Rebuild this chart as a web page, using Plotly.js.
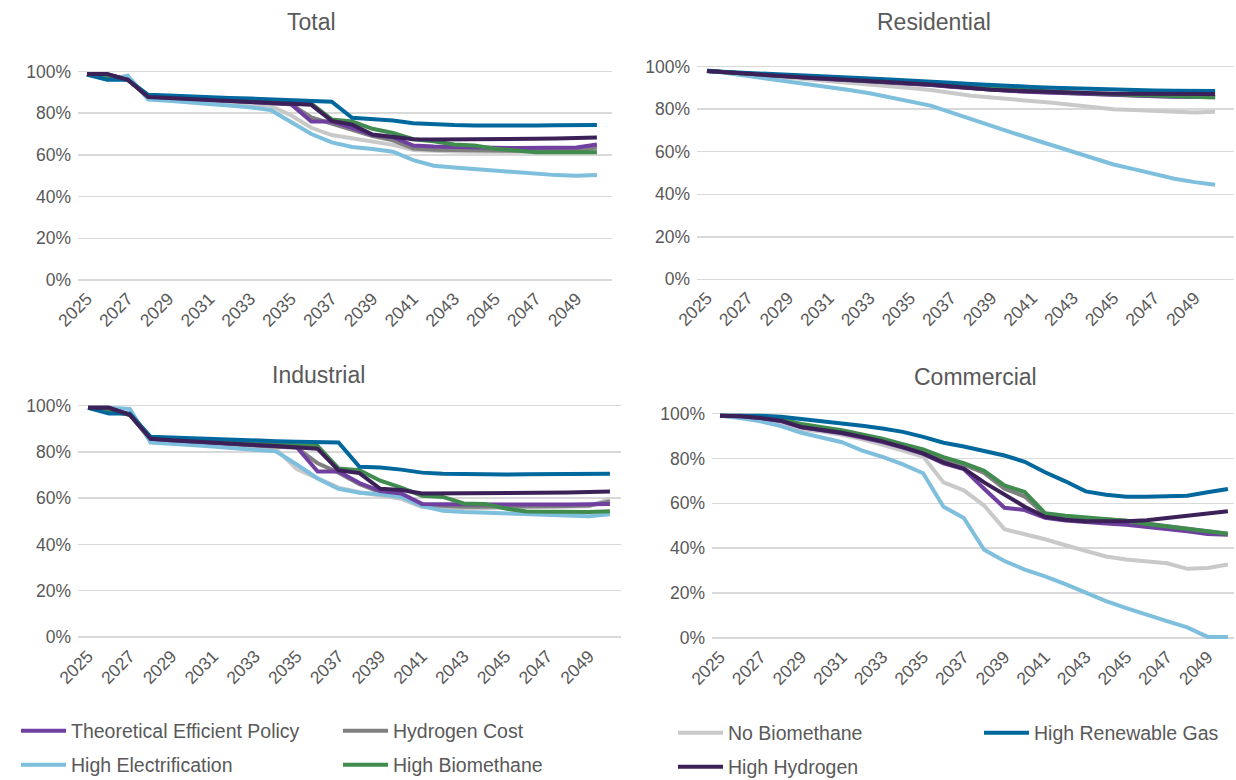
<!DOCTYPE html>
<html>
<head>
<meta charset="utf-8">
<script src="https://cdn.plot.ly/plotly-3.0.1.min.js"></script>
<style>html,body{margin:0;padding:0;background:#fff;}#chart{width:1236px;height:780px;}</style>
</head>
<body>
<div id="chart"></div>
<script>
// ---------- DATA ----------
const years = [2025,2026,2027,2028,2029,2030,2031,2032,2033,2034,2035,2036,2037,2038,2039,2040,2041,2042,2043,2044,2045,2046,2047,2048,2049,2050];
const xTickVals = [2025,2027,2029,2031,2033,2035,2037,2039,2041,2043,2045,2047,2049];
const xTickText = ['2025','2027','2029','2031','2033','2035','2037','2039','2041','2043','2045','2047','2049'];
const yTickVals = [0,0.2,0.4,0.6,0.8,1.0];
const yTickText = ['0%','20%','40%','60%','80%','100%'];

const seriesNames = ['Theoretical Efficient Policy','Hydrogen Cost','High Electrification','High Biomethane','No Biomethane','High Renewable Gas','High Hydrogen'];
const panelTitles = ['Total','Residential','Industrial','Commercial'];

// Total (% of 2025 base)
const total_TEP = [98.5,98.5,96,88,87.5,87,86.5,86,85.5,85,84.3,76,76,73,69.5,68.5,64.5,64,63.7,63.5,63.4,63.3,63.3,63.3,63.5,65];
const total_HC  = [98.5,98.5,96,88,87.5,87,86.5,86,85.5,85,84.3,78,75,72,69,67,63,62.5,62.3,62.2,62,62,62,62,62.3,63.5];
const total_HE  = [98.5,96,98,86.5,86,85.2,84.5,83.7,82.8,81.5,76,70,66,63.8,62.8,61.5,57.5,54.8,54,53.2,52.5,51.8,51,50.3,50,50.3];
const total_HB  = [98.5,97,96,88.5,88,87.5,87,86.6,86.2,85.8,85.3,84.5,77,76,72.5,70.5,67.5,66.5,65,64.5,63,62,61.3,61.3,61.3,61.3];
const total_NB  = [98.5,98,96,87.5,87,86.3,85.6,85,84.3,83.5,79,73,69.5,68,66.5,64.8,62.3,61.8,61.6,61.5,61.4,61.3,61.3,61.5,62,62.8];
const total_HRG = [98.5,96,96,88.8,88.5,88,87.6,87.3,87,86.7,86.3,85.8,85.5,77.8,77.2,76.5,75.2,74.6,74.3,74.1,74,74,74.1,74.2,74.3,74.3];
const total_HH  = [98.8,98.8,96,87.8,87.3,86.8,86.3,85.8,85.4,85,84.6,84,76.3,74.5,69.8,68.8,67.5,67.4,67.4,67.4,67.5,67.6,67.7,67.9,68.1,68.3];

// Residential
const res_TEP = [98,97.3,96.6,95.9,95.3,94.7,94.1,93.6,93.1,92.6,92.1,91.4,90.6,89.8,89.1,88.6,88.1,87.7,87.3,86.9,86.6,86.3,86.1,85.9,85.8,85.8];
const res_HC  = [98,97.3,96.6,96,95.4,94.8,94.2,93.7,93.2,92.7,92.2,91.5,90.7,89.9,89.2,88.7,88.2,87.8,87.4,87,86.7,86.4,86.2,86,85.9,85.9];
const res_HE  = [98.3,97,95.7,94.5,93.3,92,90.5,89,87.5,85.6,83.8,81.7,78.5,75.2,72,69,66,63,60,56.8,54,51.8,49.5,47.3,45.7,44.5];
const res_HB  = [98,97.3,96.7,96.1,95.5,94.9,94.4,93.9,93.4,92.9,92.4,91.8,91.2,90.4,89.8,89.3,88.8,88.3,87.9,87.4,87,86.7,86.4,86.1,85.8,85.5];
const res_NB  = [98,97.2,96.5,95.7,95,94.2,93.5,92.7,91.8,91,90,89,87.7,86.3,85.5,84.8,84,83,82,81,80,79.6,79.2,78.8,78.5,78.8];
const res_HRG = [98,97.5,97,96.5,96,95.6,95.2,94.8,94.4,94,93.6,93.1,92.5,91.9,91.3,90.9,90.5,90.1,89.8,89.4,89.1,88.9,88.8,88.7,88.6,88.6];
const res_HH  = [98,97.3,96.6,96,95.4,94.8,94.3,93.8,93.3,92.8,92.3,91.6,90.8,89.9,89.2,88.8,88.4,88.1,87.8,87.5,87.3,87.2,87.1,87.1,87.1,87.2];

// Industrial
const ind_TEP = [99,99,96,85.6,85,84.4,83.9,83.4,82.9,82.5,82,71.5,71.5,66.5,63,62,57.5,57.3,57.2,57.2,57.2,57.2,57.2,57.2,57.3,57.5];
const ind_HC  = [99,99,96,85.3,84.8,84.2,83.7,83.2,82.7,82.2,81.8,75,71,66,62.5,61,57,56.5,56.3,56.3,56.3,56.4,56.5,56.6,56.8,58.5];
const ind_HE  = [99,99,98.5,84,83.5,83,82.3,81.5,80.8,80.2,74.5,68.5,64,62.3,61.7,60.5,56.5,54.5,54,53.7,53.4,52.8,52.4,52.1,52.2,53];
const ind_HB  = [99,97.5,96,86,85.5,85,84.5,84,83.6,83.2,82.8,82.5,72.8,72,67.5,64.5,61,60.5,57.7,57.5,55.5,54.2,54,54,54,54.3];
const ind_NB  = [99,99,96,85,84.5,84,83.3,82.6,82,81.3,72.5,68.5,64.5,62.5,61.2,59.7,56.2,55.7,55.6,55.6,55.7,55.8,56,56.2,56.5,59.7];
const ind_HRG = [99,96.5,96.5,86.5,86.2,85.8,85.5,85.2,84.9,84.6,84.3,84,84,73.5,73.2,72.3,71,70.5,70.3,70.2,70.2,70.3,70.3,70.4,70.5,70.5];
const ind_HH  = [99,99,96,85.6,85,84.4,83.9,83.4,82.9,82.5,82,81.3,72,70.8,64,63.5,62,62,62,62,62.1,62.1,62.2,62.4,62.6,62.8];

// Commercial
const com_TEP = [99,98.8,98,96.6,93.8,92.5,91.2,89.3,87.3,84.8,82,77.8,75.2,66.5,58,57,53.5,52.3,51.5,51,50.4,49.5,48.5,47.5,46.3,46];
const com_HC  = [99,98.8,98.2,97,94.5,93.3,92,90,88,85.6,83.2,79.8,77.2,73.5,66.5,63,54.8,53.8,53.2,52.8,52.2,51,49.8,48.6,47.5,46.5];
const com_HE  = [99,98,96.5,94.4,91.4,89.5,87.2,83.5,80.7,77.3,73.4,58.5,53.5,39.3,34.3,30.5,27.5,24,20.4,16.4,13.3,10.2,7.5,4.7,0.5,0.5];
const com_HB  = [99,99,98.5,97.5,95.3,94,92.5,90.7,88.8,86.3,84,80.6,77.9,74.5,68,65,55.6,54.5,53.6,53,52.2,50.8,49.7,48.7,47.6,46.4];
const com_NB  = [99,98.5,97.5,96,93,92,90.5,88.5,86,83.5,80.8,69.3,65.8,59,48.5,46.2,44,41.3,38.8,36.3,35,34.3,33.3,30.8,31.2,32.7];
const com_HRG = [99,99,99,98.5,97.5,96.8,95.6,94.5,93.3,91.8,89.6,87,85.3,83.5,81.3,78.5,73.8,69.8,65.3,63.8,62.9,62.9,63.1,63.4,64.9,66.4];
const com_HH  = [99,98.8,98,96.8,94,92.7,91.4,89.6,87.6,85,82.2,78.2,75.5,69.3,64,58.5,54,52.7,52,51.9,52,52.5,53.5,54.5,55.5,56.5];

// ---------- STYLE ----------
const colors = {
  'Theoretical Efficient Policy':'#7040A0',
  'Hydrogen Cost':'#808080',
  'High Electrification':'#7DBFDC',
  'High Biomethane':'#408B4E',
  'No Biomethane':'#C9C9C9',
  'High Renewable Gas':'#00689D',
  'High Hydrogen':'#3C2158'
};
const legendOf = {
  'Theoretical Efficient Policy':['legend',1],
  'Hydrogen Cost':['legend',2],
  'High Electrification':['legend2',1],
  'High Biomethane':['legend2',2],
  'No Biomethane':['legend3',1],
  'High Renewable Gas':['legend3',2],
  'High Hydrogen':['legend4',1]
};
const panels = [
  {axis:'', data:{'Theoretical Efficient Policy':total_TEP,'Hydrogen Cost':total_HC,'High Electrification':total_HE,'High Biomethane':total_HB,'No Biomethane':total_NB,'High Renewable Gas':total_HRG,'High Hydrogen':total_HH}},
  {axis:'2', data:{'Theoretical Efficient Policy':res_TEP,'Hydrogen Cost':res_HC,'High Electrification':res_HE,'High Biomethane':res_HB,'No Biomethane':res_NB,'High Renewable Gas':res_HRG,'High Hydrogen':res_HH}},
  {axis:'3', data:{'Theoretical Efficient Policy':ind_TEP,'Hydrogen Cost':ind_HC,'High Electrification':ind_HE,'High Biomethane':ind_HB,'No Biomethane':ind_NB,'High Renewable Gas':ind_HRG,'High Hydrogen':ind_HH}},
  {axis:'4', data:{'Theoretical Efficient Policy':com_TEP,'Hydrogen Cost':com_HC,'High Electrification':com_HE,'High Biomethane':com_HB,'No Biomethane':com_NB,'High Renewable Gas':com_HRG,'High Hydrogen':com_HH}}
];
// drawing order (bottom to top)
const drawOrder = ['No Biomethane','Hydrogen Cost','High Electrification','Theoretical Efficient Policy','High Biomethane','High Renewable Gas','High Hydrogen'];

const traces = [];
panels.forEach((p, pi) => {
  drawOrder.forEach(name => {
    const lg = legendOf[name];
    traces.push({
      type:'scatter', mode:'lines', name:name,
      x: years, y: p.data[name].map(v => v/100),
      xaxis:'x'+p.axis, yaxis:'y'+p.axis,
      line:{color:colors[name], width:4},
      showlegend: pi === 0,
      legend: lg[0], legendrank: lg[1],
      hoverinfo:'skip'
    });
  });
});

const W = 1236, H = 780;
const txt = '#595959';
const fam = 'Liberation Sans, Arial, sans-serif';
const tickFont = {family:fam, size:17.5, color:txt};
function xa(domPx, r, anchor){
  return {domain:[domPx[0]/W, domPx[1]/W], range:r, anchor:anchor, tickmode:'array', tickvals:xTickVals, ticktext:xTickText,
    tickangle:-45, showgrid:false, zeroline:false, showline:false, ticks:'', tickfont:tickFont, fixedrange:true};
}
function ya(domPx, anchor){
  return {domain:[1-domPx[1]/H, 1-domPx[0]/H], range:[-0.02,1.02], tickmode:'array', tickvals:yTickVals, ticktext:yTickText,
    showgrid:true, gridcolor:'#D9D9D9', gridwidth:1.5, zeroline:false, showline:false, ticks:'', tickfont:tickFont,
    ticklabelstandoff:6, anchor:anchor, fixedrange:true};
}
const legFont = {family:fam, size:19.5, color:txt};
function leg(xpx, ypx, ew){
  return {x:xpx/W, y:1-ypx/H, xanchor:'left', yanchor:'middle', orientation:'h', entrywidth:ew, entrywidthmode:'pixels',
    font:legFont, itemwidth:45, bgcolor:'rgba(0,0,0,0)', borderwidth:0, traceorder:'normal'};
}
const titleFont = {family:fam, size:23, color:txt};
const layout = {
  width:W, height:H, margin:{l:0,r:0,t:0,b:0,autoexpand:false}, paper_bgcolor:'#fff', plot_bgcolor:'#fff',
  xaxis: xa([78,612],[2024.56,2050.74],'y'),     yaxis: ya([67.3,284.2],'x'),
  xaxis2: xa([697,1234],[2024.508,2050.93],'y2'), yaxis2: ya([62.45,283.55],'x2'),
  xaxis3: xa([78,621],[2024.52,2050.53],'y3'),   yaxis3: ya([400.87,641.63],'x3'),
  xaxis4: xa([712,1234],[2024.606,2050.3],'y4'), yaxis4: ya([409.0,642.5],'x4'),
  legend: leg(16,731,262),
  legend2: leg(16,765,262),
  legend3: leg(673,733,246),
  legend4: leg(673,767,246),
  annotations: [
    {text:panelTitles[0], x:311/W, y:1-22/H},
    {text:panelTitles[1], x:934/W, y:1-22/H},
    {text:panelTitles[2], x:318/W, y:1-375/H},
    {text:panelTitles[3], x:976/W, y:1-377/H}
  ].map(a => Object.assign(a, {xref:'paper', yref:'paper', xanchor:'center', yanchor:'middle', showarrow:false, font:titleFont})),
  showlegend:true
};
Plotly.newPlot('chart', traces, layout, {staticPlot:true, displayModeBar:false});
</script>
</body>
</html>
